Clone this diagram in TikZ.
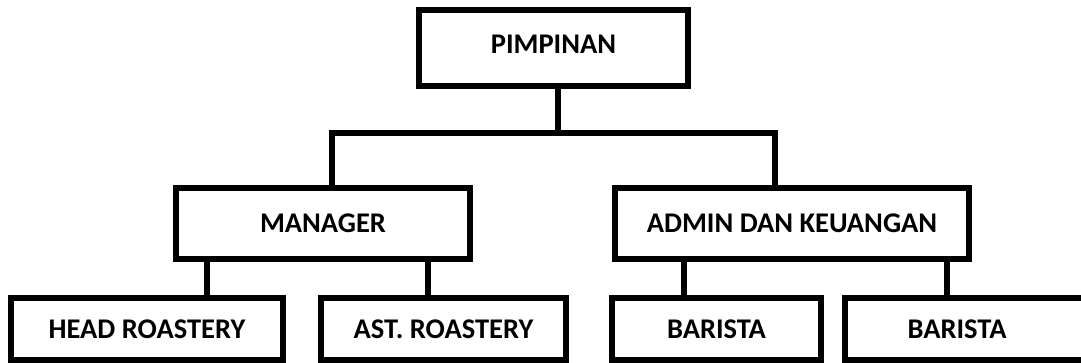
\documentclass[tikz,border=0pt]{standalone}
\usepackage{fontspec}
\setmainfont{Carlito}
\usetikzlibrary{positioning}

\tikzset{
  unit/.style={draw=black, line width=6.5pt, fill=white, inner sep=0pt,
    font=\fontsize{28.5}{32}\selectfont\bfseries},
  link/.style={draw=black, line width=6.5pt}
}

\begin{document}
\begin{tikzpicture}[x=1pt, y=-1pt]
\clip (0,0) rectangle (1081,363);

% boxes
\node[unit, minimum width=269pt, minimum height=76pt] (pimpinan) at (553.5,48) {\raisebox{4pt}[\height][\depth]{PIMPINAN}};
\node[unit, minimum width=294pt, minimum height=71pt] (manager) at (323,223.5) {MANAGER};
\node[unit, minimum width=354pt, minimum height=71pt] (admin) at (792,223.5) {ADMIN DAN KEUANGAN};
\node[unit, minimum width=272pt, minimum height=62pt] (head) at (147,329) {HEAD ROASTERY};
\node[unit, minimum width=245pt, minimum height=62pt] (ast) at (443.5,329) {AST. ROASTERY};
\node[unit, minimum width=209pt, minimum height=62pt] (baristaA) at (716.5,329) {BARISTA};
\node[unit, minimum width=265pt, minimum height=62pt] (baristaB) at (977.5,329) {BARISTA\kern41pt};

% x positions of the links
\coordinate (hub) at (558,133);
\coordinate (kmgr) at (332,0);
\coordinate (kadm) at (775,0);
\coordinate (khead) at (207,0);
\coordinate (kast) at (428,0);
\coordinate (kbA) at (684,0);
\coordinate (kbB) at (947,0);

% links
\draw[link] (pimpinan.south -| hub) -- (hub);
\draw[link] (manager.north -| kmgr) |- (hub) -| (admin.north -| kadm);
\draw[link] (manager.south -| khead) -- (head.north -| khead);
\draw[link] (manager.south -| kast) -- (ast.north -| kast);
\draw[link] (admin.south -| kbA) -- (baristaA.north -| kbA);
\draw[link] (admin.south -| kbB) -- (baristaB.north -| kbB);
\end{tikzpicture}
\end{document}
